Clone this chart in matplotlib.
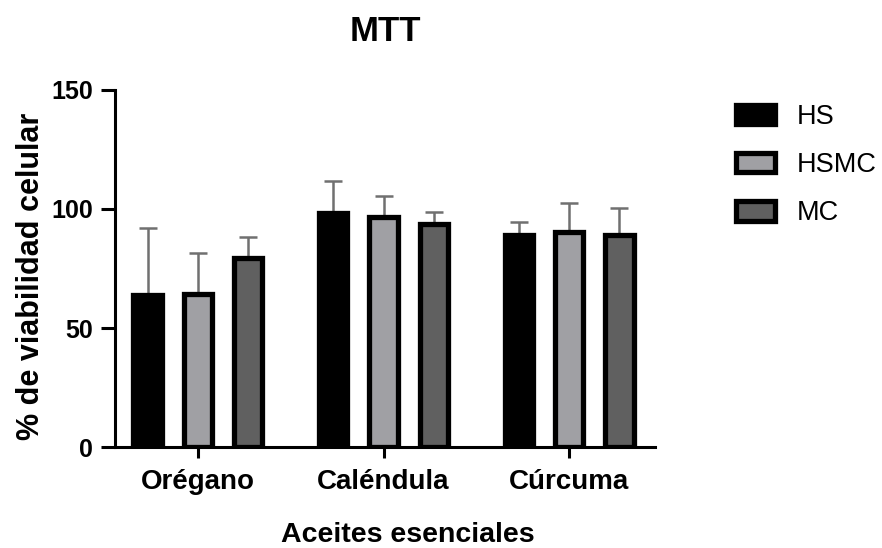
import matplotlib.pyplot as plt
import numpy as np

plt.rcParams['font.family'] = ['Liberation Sans', 'DejaVu Sans']

categories = ['Orégano', 'Caléndula', 'Cúrcuma']
series = ['HS', 'HSMC', 'MC']
means = {
    'HS': [64, 98.3, 89],
    'HSMC': [64.5, 96.5, 90.5],
    'MC': [79.5, 93.5, 89.2],
}
sds = {
    'HS': [28, 13.5, 5.5],
    'HSMC': [17, 8.8, 11.8],
    'MC': [8.7, 5.4, 11.3],
}
fills = {'HS': '#000000', 'HSMC': '#a0a0a4', 'MC': '#606060'}

fig = plt.figure(figsize=(8.82, 5.48), dpi=100)
ax = fig.add_axes([0.130, 0.184, 0.613, 0.652])

x = np.arange(len(categories))
width = 0.152
offsets = [-0.27, 0, 0.27]
for s, off in zip(series, offsets):
    ax.bar(x + off, means[s], width, color=fills[s], edgecolor='black',
           linewidth=3.8, label=s, zorder=3)
    ax.errorbar(x + off, means[s], yerr=[np.zeros(3), sds[s]], fmt='none',
                ecolor='#707070', elinewidth=1.8, capsize=6.5, capthick=1.8, zorder=2)

ax.set_xlim(-0.447, 2.463)
ax.set_ylim(0, 150)
ax.set_yticks([0, 50, 100, 150])
ax.set_xticks(x)
ax.set_xticklabels(categories, fontsize=20, fontweight='bold')
for lab in ax.get_yticklabels():
    lab.set_fontsize(18)
    lab.set_fontweight('bold')

for side in ['top', 'right']:
    ax.spines[side].set_visible(False)
for side in ['left', 'bottom']:
    ax.spines[side].set_linewidth(2.2)
ax.tick_params(axis='y', width=2.2, length=10, pad=5.5)
ax.tick_params(axis='x', width=2.2, length=8, pad=8)

ax.set_title('MTT', fontsize=25, fontweight='bold', pad=35)
ax.set_ylabel('% de viabilidad celular', fontsize=22, fontweight='bold', labelpad=4)
ax.yaxis.label.set_y(0.478)
ax.set_xlabel('Aceites esenciales', fontsize=20.5, fontweight='bold', labelpad=19)
ax.xaxis.label.set_x(0.543)

ax.legend(loc='upper left', bbox_to_anchor=(736 / 882, 1 - 104 / 548),
          bbox_transform=fig.transFigure, frameon=False, fontsize=19.5,
          borderpad=0, borderaxespad=0,
          handlelength=1.45, handleheight=0.72, labelspacing=0.82, handletextpad=0.8)

fig.savefig('out.png', dpi=100)
